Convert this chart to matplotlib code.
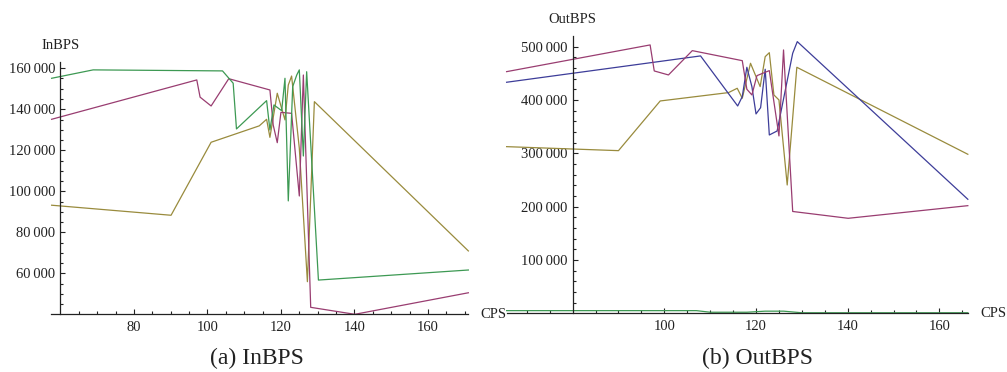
import matplotlib
matplotlib.use("Agg")
import matplotlib.pyplot as plt
from matplotlib.ticker import FixedLocator, FuncFormatter

plt.rcParams['font.family'] = ['Liberation Serif', 'DejaVu Serif']

# Palette
BLUE = '#3d3d99'
MAGENTA = '#993d71'
OLIVE = '#998b3d'
GREEN = '#3d9953'

# ---- InBPS vs CPS ----
in_green_x = [57.6, 68.9, 104.1, 107.0, 107.9, 116.1, 117.0, 118.1, 120.2, 121.1,
              122.0, 123.2, 124.3, 125.0, 126.1, 127.0, 130.2, 171.0]
in_green_y = [155100, 159200, 158700, 152700, 130400, 144200, 129900, 142100, 139300,
              155100, 95300, 151000, 156700, 159200, 117200, 158300, 56700, 61600]

in_magenta_x = [57.6, 97.1, 98.0, 101.0, 105.8, 117.0, 117.9, 119.0, 120.0, 122.9,
                125.0, 126.1, 128.1, 140.1, 171.0]
in_magenta_y = [135100, 154300, 145900, 141600, 154900, 149400, 132300, 123700, 138500,
                138000, 97700, 156700, 43400, 40000, 50500]

in_olive_x = [57.6, 90.1, 101.0, 114.1, 116.1, 117.0, 119.0, 121.1, 122.0, 122.9,
              125.0, 127.2, 129.1, 171.0]
in_olive_y = [93200, 88300, 123900, 131900, 135100, 126300, 147800, 134800, 151800,
              156200, 121000, 55900, 143700, 70900]

# ---- OutBPS vs CPS ----
out_blue_x = [65.6, 107.9, 116.0, 117.0, 118.0, 119.1, 120.0, 121.0, 122.0, 122.9,
              124.6, 128.0, 129.0, 166.2]
out_blue_y = [433400, 482800, 388900, 406400, 461500, 425200, 374000, 385700, 457800,
              334500, 342000, 487800, 509600, 213900]

out_magenta_x = [65.6, 96.9, 97.8, 100.9, 106.1, 117.0, 118.0, 119.1, 120.2, 122.9,
                 125.0, 126.0, 128.0, 140.1, 166.2]
out_magenta_y = [453300, 503400, 454600, 447100, 492700, 473900, 420300, 409600, 445800,
                 455200, 332700, 494000, 191000, 178200, 201900]

out_olive_x = [65.6, 90.0, 99.1, 114.0, 115.9, 117.0, 118.8, 120.9, 122.0, 122.9,
               123.9, 125.0, 126.8, 128.9, 166.2]
out_olive_y = [312600, 305100, 398300, 414000, 422100, 403400, 469000, 425200, 481400,
               488900, 409600, 400200, 240700, 461500, 298300]

out_green_x = [65.6, 107.0, 110.0, 118.0, 122.0, 126.0, 130.0, 166.2]
out_green_y = [5000, 5000, 2000, 2000, 4000, 4000, 1000, 1000]

in_xticks = [80, 100, 120, 140, 160]
in_yticks = [60000, 80000, 100000, 120000, 140000, 160000]
out_xticks = [100, 120, 140, 160]
out_yticks = [100000, 200000, 300000, 400000, 500000]


def grouped(v, pos=None):
    s = f"{int(round(v)):d}"
    if len(s) > 3:
        s = s[:-3] + "\u2009" + s[-3:]
    return s


def style_axes(ax, x0, y0, xmaj, xmin, ymaj, ymin, ylabel, xlabel_offset):
    for side in ('top', 'right'):
        ax.spines[side].set_visible(False)
    ax.spines['left'].set_position(('data', x0))
    ax.spines['bottom'].set_position(('data', y0))
    for side in ('left', 'bottom'):
        ax.spines[side].set_linewidth(0.9)
        ax.spines[side].set_color('#222222')
    ax.xaxis.set_major_locator(FixedLocator(xmaj))
    ax.xaxis.set_minor_locator(FixedLocator(xmin))
    ax.yaxis.set_major_locator(FixedLocator(ymaj))
    ax.yaxis.set_minor_locator(FixedLocator(ymin))
    ax.yaxis.set_major_formatter(FuncFormatter(grouped))
    ax.tick_params(which='both', direction='in', colors='#222222', labelsize=10.5,
                   width=0.8)
    ax.tick_params(which='major', length=3.8, pad=3.5)
    ax.tick_params(which='minor', length=2.2)
    ax.tick_params(axis='x', which='major', pad=5)
    # axis caption above the vertical axis
    ax.annotate(ylabel, xy=(x0, 1.0), xycoords=('data', 'axes fraction'),
                xytext=(0, 12), textcoords='offset points', ha='center',
                va='center', fontsize=10.5, color='#222222', annotation_clip=False)
    # CPS caption to the right of the horizontal axis
    ax.annotate('CPS', xy=(1.0, y0), xycoords=('axes fraction', 'data'),
                xytext=(xlabel_offset, 0), textcoords='offset points', ha='left',
                va='center', fontsize=10.5, color='#222222', annotation_clip=False)


fig = plt.figure(figsize=(10.07, 3.72), dpi=100)

# Left panel
ax1 = fig.add_axes([0.0509, 0.1551, 0.4142, 0.678])
ax1.set_xlim(57.5, 171)
ax1.set_ylim(40000, 163000)
for xs, ys, c in [(in_olive_x, in_olive_y, OLIVE),
                  (in_magenta_x, in_magenta_y, MAGENTA),
                  (in_green_x, in_green_y, GREEN)]:
    ax1.plot(xs, ys, color=c, lw=0.9, clip_on=False)
style_axes(ax1, 60, 40000, in_xticks,
           [v for v in range(65, 171, 5) if v % 20],
           in_yticks, [v for v in range(45000, 163000, 5000) if v % 20000],
           'InBPS', 9)

# Right panel
ax2 = fig.add_axes([0.5031, 0.1578, 0.458, 0.7452])
ax2.set_xlim(65.6, 166.2)
ax2.set_ylim(0, 520000)
for xs, ys, c in [(out_green_x, out_green_y, GREEN),
                  (out_olive_x, out_olive_y, OLIVE),
                  (out_blue_x, out_blue_y, BLUE),
                  (out_magenta_x, out_magenta_y, MAGENTA)]:
    ax2.plot(xs, ys, color=c, lw=0.9, clip_on=False)
style_axes(ax2, 80, 0, out_xticks,
           [v for v in range(70, 166, 5) if v % 20],
           out_yticks, [v for v in range(20000, 520000, 20000) if v % 100000],
           'OutBPS', 9)

fig.text(257 / 1007, 1 - 358 / 372, '(a) InBPS', ha='center', va='center',
         fontsize=17, color='#222222')
fig.text(757 / 1007, 1 - 358 / 372, '(b) OutBPS', ha='center', va='center',
         fontsize=17, color='#222222')

fig.savefig('out.png', dpi=100, facecolor='white')
